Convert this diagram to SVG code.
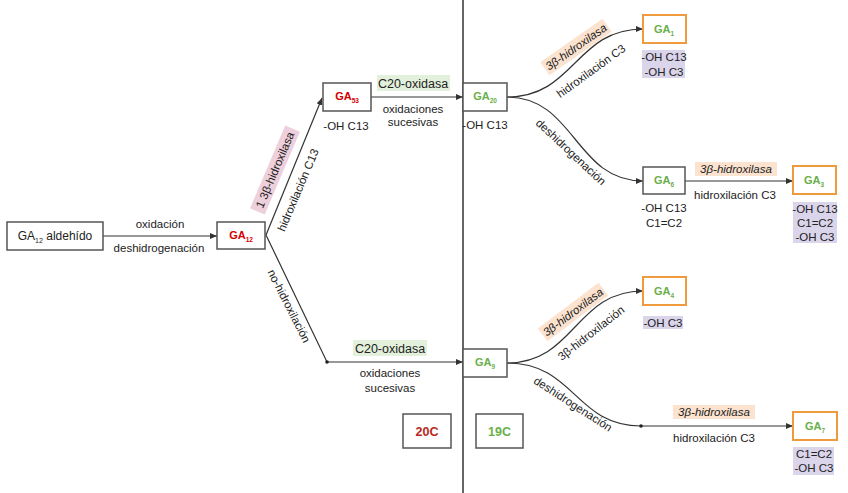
<svg xmlns="http://www.w3.org/2000/svg" width="848" height="493" viewBox="0 0 848 493">
<style>
text{font-family:"Liberation Sans",Arial,sans-serif;font-size:11.5px;fill:#222;}
.c{text-anchor:middle;}
.box{fill:#fff;stroke:#555;stroke-width:1.5;}
.obox{fill:#fff;stroke:#ef9a3c;stroke-width:2;}
.ga{font-weight:bold;font-size:11px;text-anchor:middle;}
.red{fill:#d40000;}
.grn{fill:#6aaf4a;}
.sub{font-size:6.5px;}
.line{fill:none;stroke:#333;stroke-width:1.2;}
.pur{fill:#dbd5ec;}
.org{fill:#fbe3cf;}
.gbg{fill:#e3f0dc;}
.pbg{fill:#eed0dc;}
.it{font-style:italic;}
.big{font-size:12.5px;}
</style>
<defs>
<marker id="ah" markerUnits="userSpaceOnUse" markerWidth="7" markerHeight="6" refX="7" refY="3" orient="auto">
<path d="M0,0 L7,3 L0,6 z" fill="#333"/>
</marker>
</defs>
<rect width="848" height="493" fill="#fff"/>
<line x1="463" y1="0" x2="463" y2="493" stroke="#666" stroke-width="2"/>

<g id="connectors">
<line class="line" x1="103" y1="236" x2="217" y2="236" marker-end="url(#ah)"/>
<line class="line" x1="266" y1="235" x2="322" y2="98" marker-end="url(#ah)"/>
<polyline class="line" points="266,235 327,362 463,362" marker-end="url(#ah)"/>
<circle cx="327" cy="362" r="1.8" fill="#222"/>
<line class="line" x1="371" y1="97" x2="463" y2="97" marker-end="url(#ah)"/>
<path class="line" d="M507,97 C575,97 575,29 643,29" marker-end="url(#ah)"/>
<path class="line" d="M507,97 C575,97 575,181 643,181" marker-end="url(#ah)"/>
<line class="line" x1="685" y1="181" x2="793" y2="181" marker-end="url(#ah)"/>
<path class="line" d="M507,363 C575,363 575,291 643,291" marker-end="url(#ah)"/>
<path class="line" d="M507,363 C575,363 575,426 641,426 L793,426" marker-end="url(#ah)"/>
<circle cx="641" cy="426" r="1.8" fill="#222"/>

<text class="c" x="160" y="228">oxidación</text>
<text class="c" x="159" y="252">deshidrogenación</text>
<g transform="translate(275,170) rotate(-67)">
<rect class="pbg" x="-45" y="-8" width="90" height="16"/>
<text class="c" x="0" y="4">1 3β-hidroxilasa</text>
</g>
<g transform="translate(298,190) rotate(-67)">
<text class="c" x="0" y="4">hidroxilación C13</text>
</g>
<g transform="translate(289,306) rotate(63)">
<text class="c" x="0" y="4">no-hidroxilación</text>
</g>
<rect class="gbg" x="377" y="75" width="73" height="16"/>
<text class="c big" x="413" y="87.5">C20-oxidasa</text>
<text class="c" x="413" y="113">oxidaciones</text>
<text class="c" x="413" y="126">sucesivas</text>
<rect class="gbg" x="353" y="340" width="74" height="16"/>
<text class="c big" x="390" y="352.5">C20-oxidasa</text>
<text class="c" x="390" y="377">oxidaciones</text>
<text class="c" x="390" y="392">sucesivas</text>

<g transform="translate(576,47) rotate(-35)">
<rect class="org" x="-38" y="-8" width="76" height="16"/>
<text class="c it" x="0" y="4">3β-hidroxilasa</text>
</g>
<g transform="translate(591,71) rotate(-36)">
<text class="c" x="0" y="4">hidroxilación C3</text>
</g>
<g transform="translate(571,152) rotate(43)">
<text class="c" x="0" y="4">deshidrogenación</text>
</g>
<rect class="org" x="695" y="162" width="82" height="14"/>
<text class="c it" x="736" y="173">3β-hidroxilasa</text>
<text class="c" x="735" y="199">hidroxilación C3</text>

<g transform="translate(573,312) rotate(-37)">
<rect class="org" x="-38" y="-8" width="76" height="16"/>
<text class="c it" x="0" y="4">3β-hidroxilasa</text>
</g>
<g transform="translate(591,333) rotate(-38)">
<text class="c" x="0" y="4">3β-hidroxilación</text>
</g>
<g transform="translate(573,404) rotate(33)">
<text class="c" x="0" y="4">deshidrogenación</text>
</g>
<rect class="org" x="673" y="405" width="82" height="14"/>
<text class="c it" x="714" y="416">3β-hidroxilasa</text>
<text class="c" x="714" y="442">hidroxilación C3</text>
</g>

<g id="ga12ald">
<rect class="box" x="7" y="222" width="96" height="28"/>
<text class="c" x="55" y="240" style="font-size:12px">GA<tspan style="font-size:7px" dy="3">12</tspan><tspan dy="-3"> aldehído</tspan></text>
</g>
<g id="ga12">
<rect class="box" x="217" y="222" width="48" height="27"/>
<text class="ga red" x="241" y="239">GA<tspan class="sub" dy="3">12</tspan></text>
</g>
<g id="ga53">
<rect class="box" x="323" y="83" width="48" height="28"/>
<text class="ga red" x="347" y="100">GA<tspan class="sub" dy="3">53</tspan></text>
<text class="c" x="346" y="130">-OH C13</text>
</g>
<g id="ga20">
<rect class="box" x="463" y="83" width="44" height="28"/>
<text class="ga grn" x="485" y="100">GA<tspan class="sub" dy="3">20</tspan></text>
<text class="c" x="485" y="129">-OH C13</text>
</g>
<g id="ga9">
<rect class="box" x="463" y="349" width="44" height="28"/>
<text class="ga grn" x="485" y="366">GA<tspan class="sub" dy="3">9</tspan></text>
</g>
<g id="ga1">
<rect class="obox" x="643" y="15" width="43" height="28"/>
<text class="ga grn" x="664" y="33">GA<tspan class="sub" dy="3">1</tspan></text>
<rect class="pur" x="642" y="50" width="43" height="28"/>
<text class="c" x="664" y="61">-OH C13</text>
<text class="c" x="664" y="75.5">-OH C3</text>
</g>
<g id="ga6">
<rect class="box" x="643" y="167" width="42" height="27"/>
<text class="ga grn" x="664" y="184">GA<tspan class="sub" dy="3">6</tspan></text>
<text class="c" x="664" y="212">-OH C13</text>
<text class="c" x="664" y="227">C1=C2</text>
</g>
<g id="ga3">
<rect class="obox" x="793" y="166" width="43" height="28"/>
<text class="ga grn" x="814" y="184">GA<tspan class="sub" dy="3">3</tspan></text>
<rect class="pur" x="793" y="202" width="44" height="41"/>
<text class="c" x="815" y="213">-OH C13</text>
<text class="c" x="815" y="227">C1=C2</text>
<text class="c" x="815" y="241">-OH C3</text>
</g>
<g id="ga4">
<rect class="obox" x="643" y="277" width="43" height="28"/>
<text class="ga grn" x="664" y="295">GA<tspan class="sub" dy="3">4</tspan></text>
<rect class="pur" x="643" y="316" width="40" height="13"/>
<text class="c" x="663" y="327">-OH C3</text>
</g>
<g id="ga7">
<rect class="obox" x="793" y="412" width="44" height="28"/>
<text class="ga grn" x="815" y="430">GA<tspan class="sub" dy="3">7</tspan></text>
<rect class="pur" x="793" y="447" width="41" height="28"/>
<text class="c" x="814" y="458">C1=C2</text>
<text class="c" x="814" y="472">-OH C3</text>
</g>
<g id="c20">
<rect class="box" x="403" y="414" width="48" height="34"/>
<text class="c" x="427" y="436" style="font-weight:bold;font-size:12.5px;fill:#b8281c">20C</text>
</g>
<g id="c19">
<rect class="box" x="476" y="414" width="47" height="34"/>
<text class="c" x="499.5" y="436" style="font-weight:bold;font-size:12.5px;fill:#6aaf4a">19C</text>
</g>
</svg>
